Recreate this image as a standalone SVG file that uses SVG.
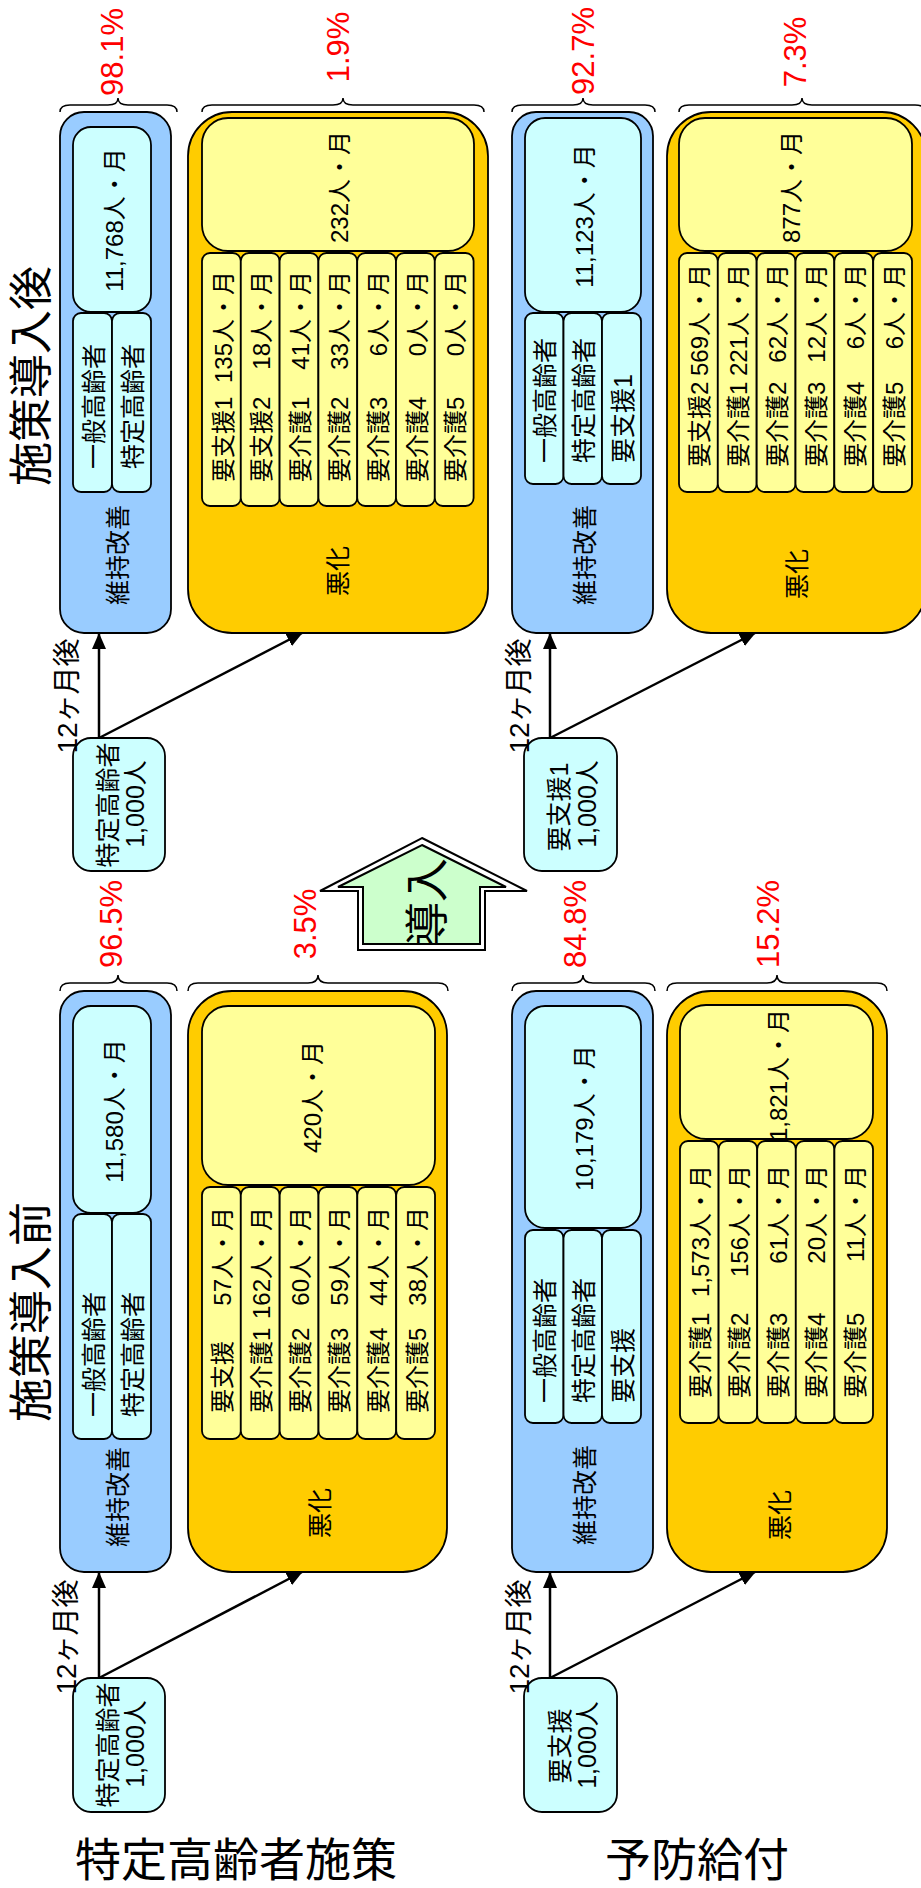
<svg xmlns="http://www.w3.org/2000/svg" width="921" height="1888" viewBox="0 0 921 1888">
<defs>
<style>
text{font-family:"Liberation Sans","Noto Sans CJK JP",sans-serif;fill:#000;dominant-baseline:central}
.s{stroke:#000;stroke-width:1.8}
.blue{fill:#99ccff}
.cy{fill:#ccffff}
.yo{fill:#ffcc00}
.yi{fill:#ffff99}
.f24{font-size:24px}
.f25{font-size:25px}
.f28{font-size:28px}
.pct{font-size:31px;fill:#ff0000}
.ttl{font-size:44px}
.big{font-size:46px;dominant-baseline:auto}
.brace{fill:none;stroke:#000;stroke-width:1.5}
.conn{stroke:#000;stroke-width:2.5;fill:none}
.m{text-anchor:middle}
.e{text-anchor:end}
</style>
<marker id="ah" viewBox="0 0 16 14" refX="15" refY="7" markerWidth="16" markerHeight="14" markerUnits="userSpaceOnUse" orient="auto">
<path d="M0,0 L16,7 L0,14 z" fill="#000"/>
</marker>
</defs>
<rect width="921" height="1888" fill="#fff"/>

<!-- titles -->
<g id="titles">
<text class="ttl m" transform="translate(31.5,376) rotate(-90)">施策導入後</text>
<text class="ttl m" transform="translate(31.5,1312) rotate(-90)">施策導入前</text>
<text class="big" x="75" y="1876">特定高齢者施策</text>
<text class="big" x="605" y="1876">予防給付</text>
</g>

<!-- percentages and braces -->
<g id="braces">
<path class="brace" d="M60,112 Q60,105 70,105 L108,105 Q118,105 118,98 Q118,105 128,105 L167,105 Q177,105 177,112"/>
<path class="brace" d="M202,112 Q202,105 212,105 L333,105 Q343,105 343,98 Q343,105 353,105 L474,105 Q484,105 484,112"/>
<path class="brace" d="M512,112 Q512,105 522,105 L573,105 Q583,105 583,98 Q583,105 593,105 L645,105 Q655,105 655,112"/>
<path class="brace" d="M679,112 Q679,105 689,105 L792,105 Q802,105 802,98 Q802,105 812,105 L915,105 Q925,105 925,112"/>
<path class="brace" d="M60,991 Q60,983 70,983 L108,983 Q118,983 118,975 Q118,983 128,983 L167,983 Q177,983 177,991"/>
<path class="brace" d="M188,991 Q188,983 198,983 L308,983 Q318,983 318,975 Q318,983 328,983 L438,983 Q448,983 448,991"/>
<path class="brace" d="M512,991 Q512,983 522,983 L573,983 Q583,983 583,975 Q583,983 593,983 L645,983 Q655,983 655,991"/>
<path class="brace" d="M667,991 Q667,983 677,983 L767,983 Q777,983 777,975 Q777,983 787,983 L877,983 Q887,983 887,991"/>
<text class="pct m" transform="translate(112,52) rotate(-90)">98.1%</text>
<text class="pct m" transform="translate(338,47) rotate(-90)">1.9%</text>
<text class="pct m" transform="translate(583,51) rotate(-90)">92.7%</text>
<text class="pct m" transform="translate(795,52) rotate(-90)">7.3%</text>
<text class="pct m" transform="translate(111,924) rotate(-90)">96.5%</text>
<text class="pct m" transform="translate(305,924) rotate(-90)">3.5%</text>
<text class="pct m" transform="translate(575.5,924) rotate(-90)">84.8%</text>
<text class="pct m" transform="translate(768.5,924) rotate(-90)">15.2%</text>
</g>

<!-- upper left: after, 特定高齢者 -->
<g id="after-tokutei-improve">
<rect class="s blue" x="60" y="112" width="111" height="521" rx="24"/>
<rect class="s cy" x="73" y="127" width="78" height="185" rx="18"/>
<rect class="s cy" x="73" y="313" width="39" height="179" rx="8"/>
<rect class="s cy" x="112" y="313" width="39" height="179" rx="8"/>
<text class="f24 m" transform="translate(114,220) rotate(-90)">11,768人・月</text>
<text class="f25" transform="translate(93.5,469) rotate(-90)">一般高齢者</text>
<text class="f25" transform="translate(132.5,469) rotate(-90)">特定高齢者</text>
<text class="f25 m" transform="translate(117.5,555) rotate(-90)">維持改善</text>
</g>

<g id="after-tokutei-worse">
<rect class="s yo" x="188" y="112" width="300" height="521" rx="44"/>
<rect class="s yi" x="202" y="118" width="272" height="133" rx="26"/>
<text class="f24 m" transform="translate(339,187) rotate(-90)">232人・月</text>
<rect class="s yi" x="202" y="253" width="38.8" height="253" rx="8"/>
<rect class="s yi" x="240.8" y="253" width="38.8" height="253" rx="8"/>
<rect class="s yi" x="279.6" y="253" width="38.8" height="253" rx="8"/>
<rect class="s yi" x="318.4" y="253" width="38.8" height="253" rx="8"/>
<rect class="s yi" x="357.2" y="253" width="38.8" height="253" rx="8"/>
<rect class="s yi" x="396" y="253" width="38.8" height="253" rx="8"/>
<rect class="s yi" x="434.8" y="253" width="38.8" height="253" rx="8"/>
<text class="f24" transform="translate(223.1,482) rotate(-90)">要支援1</text>
<text class="f24" transform="translate(261.9,482) rotate(-90)">要支援2</text>
<text class="f24" transform="translate(300.7,482) rotate(-90)">要介護1</text>
<text class="f24" transform="translate(339.5,482) rotate(-90)">要介護2</text>
<text class="f24" transform="translate(378.3,482) rotate(-90)">要介護3</text>
<text class="f24" transform="translate(417.1,482) rotate(-90)">要介護4</text>
<text class="f24" transform="translate(455.9,482) rotate(-90)">要介護5</text>
<text class="f24 e" transform="translate(223.1,271) rotate(-90)">135人・月</text>
<text class="f24 e" transform="translate(261.9,271) rotate(-90)">18人・月</text>
<text class="f24 e" transform="translate(300.7,271) rotate(-90)">41人・月</text>
<text class="f24 e" transform="translate(339.5,271) rotate(-90)">33人・月</text>
<text class="f24 e" transform="translate(378.3,271) rotate(-90)">6人・月</text>
<text class="f24 e" transform="translate(417.1,271) rotate(-90)">0人・月</text>
<text class="f24 e" transform="translate(455.9,271) rotate(-90)">0人・月</text>
<text class="f25 m" transform="translate(338,571) rotate(-90)">悪化</text>
</g>

<!-- upper right: after, 要支援1 -->
<g id="after-yoshien-improve">
<rect class="s blue" x="512" y="112" width="141" height="521" rx="24"/>
<rect class="s cy" x="525" y="118" width="116" height="194" rx="20"/>
<rect class="s cy" x="525" y="313" width="38.5" height="171" rx="8"/>
<rect class="s cy" x="563.5" y="313" width="38.5" height="171" rx="8"/>
<rect class="s cy" x="602" y="313" width="39" height="171" rx="8"/>
<text class="f24 m" transform="translate(584,216) rotate(-90)">11,123人・月</text>
<text class="f25" transform="translate(545,463) rotate(-90)">一般高齢者</text>
<text class="f25" transform="translate(583.5,463) rotate(-90)">特定高齢者</text>
<text class="f25" transform="translate(622.5,463) rotate(-90)">要支援1</text>
<text class="f25 m" transform="translate(585,555) rotate(-90)">維持改善</text>
</g>

<g id="after-yoshien-worse">
<rect class="s yo" x="667" y="112" width="259" height="521" rx="44"/>
<rect class="s yi" x="679" y="118" width="233" height="133" rx="26"/>
<text class="f24 m" transform="translate(791,187) rotate(-90)">877人・月</text>
<rect class="s yi" x="679" y="253" width="38.8" height="239" rx="8"/>
<rect class="s yi" x="717.8" y="253" width="38.8" height="239" rx="8"/>
<rect class="s yi" x="756.7" y="253" width="38.8" height="239" rx="8"/>
<rect class="s yi" x="795.5" y="253" width="38.8" height="239" rx="8"/>
<rect class="s yi" x="834.3" y="253" width="38.8" height="239" rx="8"/>
<rect class="s yi" x="873.2" y="253" width="38.8" height="239" rx="8"/>
<text class="f24" transform="translate(699.9,467) rotate(-90)">要支援2</text>
<text class="f24" transform="translate(738.7,467) rotate(-90)">要介護1</text>
<text class="f24" transform="translate(777.6,467) rotate(-90)">要介護2</text>
<text class="f24" transform="translate(816.4,467) rotate(-90)">要介護3</text>
<text class="f24" transform="translate(855.2,467) rotate(-90)">要介護4</text>
<text class="f24" transform="translate(894.1,467) rotate(-90)">要介護5</text>
<text class="f24 e" transform="translate(699.9,264) rotate(-90)">569人・月</text>
<text class="f24 e" transform="translate(738.7,264) rotate(-90)">221人・月</text>
<text class="f24 e" transform="translate(777.6,264) rotate(-90)">62人・月</text>
<text class="f24 e" transform="translate(816.4,264) rotate(-90)">12人・月</text>
<text class="f24 e" transform="translate(855.2,264) rotate(-90)">6人・月</text>
<text class="f24 e" transform="translate(894.1,264) rotate(-90)">6人・月</text>
<text class="f25 m" transform="translate(797,574) rotate(-90)">悪化</text>
</g>

<!-- start nodes upper -->
<g id="node-after-tokutei">
<rect class="s cy" x="73" y="738" width="92" height="133" rx="18"/>
<text class="f25 m" transform="translate(107.5,805) rotate(-90)">特定高齢者</text>
<text class="f25 m" transform="translate(135,804) rotate(-90)">1,000人</text>
</g>
<g id="node-after-yoshien">
<rect class="s cy" x="524" y="738" width="93" height="133" rx="18"/>
<text class="f25 m" transform="translate(559,807) rotate(-90)">要支援1</text>
<text class="f25 m" transform="translate(587,804) rotate(-90)">1,000人</text>
</g>

<!-- block arrow -->
<g id="arrow-introduce">
<polygon points="422,838 527,891 485,891 485,950 358,950 358,891 320,891" fill="#fff" stroke="#000" stroke-width="2"/>
<polygon points="422,845 506,887 480,887 480,944 363,944 363,887 338,887" fill="#ccffcc" stroke="#000" stroke-width="2"/>
<text class="ttl m" transform="translate(427,902) rotate(-90)">導入</text>
</g>

<!-- lower left: before, 特定高齢者 -->
<g id="before-tokutei-improve">
<rect class="s blue" x="60" y="991" width="111" height="581" rx="24"/>
<rect class="s cy" x="73" y="1006" width="78" height="207" rx="18"/>
<rect class="s cy" x="73" y="1214" width="39" height="225" rx="8"/>
<rect class="s cy" x="112" y="1214" width="39" height="225" rx="8"/>
<text class="f24 m" transform="translate(114,1111) rotate(-90)">11,580人・月</text>
<text class="f25" transform="translate(93.5,1417) rotate(-90)">一般高齢者</text>
<text class="f25" transform="translate(132.5,1417) rotate(-90)">特定高齢者</text>
<text class="f25 m" transform="translate(117.5,1497) rotate(-90)">維持改善</text>
</g>

<g id="before-tokutei-worse">
<rect class="s yo" x="188" y="991" width="259" height="581" rx="44"/>
<rect class="s yi" x="202" y="1006" width="233" height="179" rx="26"/>
<text class="f24 m" transform="translate(312,1097) rotate(-90)">420人・月</text>
<rect class="s yi" x="202" y="1187" width="38.8" height="252" rx="8"/>
<rect class="s yi" x="240.8" y="1187" width="38.8" height="252" rx="8"/>
<rect class="s yi" x="279.7" y="1187" width="38.8" height="252" rx="8"/>
<rect class="s yi" x="318.5" y="1187" width="38.8" height="252" rx="8"/>
<rect class="s yi" x="357.3" y="1187" width="38.8" height="252" rx="8"/>
<rect class="s yi" x="396.2" y="1187" width="38.8" height="252" rx="8"/>
<text class="f24" transform="translate(222.9,1413) rotate(-90)">要支援</text>
<text class="f24" transform="translate(261.7,1413) rotate(-90)">要介護1</text>
<text class="f24" transform="translate(300.6,1413) rotate(-90)">要介護2</text>
<text class="f24" transform="translate(339.4,1413) rotate(-90)">要介護3</text>
<text class="f24" transform="translate(378.2,1413) rotate(-90)">要介護4</text>
<text class="f24" transform="translate(417.1,1413) rotate(-90)">要介護5</text>
<text class="f24 e" transform="translate(222.9,1207) rotate(-90)">57人・月</text>
<text class="f24 e" transform="translate(261.7,1207) rotate(-90)">162人・月</text>
<text class="f24 e" transform="translate(300.6,1207) rotate(-90)">60人・月</text>
<text class="f24 e" transform="translate(339.4,1207) rotate(-90)">59人・月</text>
<text class="f24 e" transform="translate(378.2,1207) rotate(-90)">44人・月</text>
<text class="f24 e" transform="translate(417.1,1207) rotate(-90)">38人・月</text>
<text class="f25 m" transform="translate(320,1513) rotate(-90)">悪化</text>
</g>

<!-- lower right: before, 要支援 -->
<g id="before-yoshien-improve">
<rect class="s blue" x="512" y="991" width="141" height="581" rx="24"/>
<rect class="s cy" x="525" y="1006" width="116" height="222" rx="20"/>
<rect class="s cy" x="525" y="1230" width="38.5" height="193" rx="8"/>
<rect class="s cy" x="563.5" y="1230" width="38.5" height="193" rx="8"/>
<rect class="s cy" x="602" y="1230" width="39" height="193" rx="8"/>
<text class="f24 m" transform="translate(584,1118) rotate(-90)">10,179人・月</text>
<text class="f25" transform="translate(545,1403) rotate(-90)">一般高齢者</text>
<text class="f25" transform="translate(583.5,1403) rotate(-90)">特定高齢者</text>
<text class="f25" transform="translate(622.5,1403) rotate(-90)">要支援</text>
<text class="f25 m" transform="translate(585,1495) rotate(-90)">維持改善</text>
</g>

<g id="before-yoshien-worse">
<rect class="s yo" x="667" y="991" width="220" height="581" rx="44"/>
<rect class="s yi" x="680" y="1005" width="193" height="134" rx="26"/>
<text class="f24 m" transform="translate(778,1075) rotate(-90)">1,821人・月</text>
<rect class="s yi" x="680" y="1141" width="38.6" height="282" rx="8"/>
<rect class="s yi" x="718.6" y="1141" width="38.6" height="282" rx="8"/>
<rect class="s yi" x="757.2" y="1141" width="38.6" height="282" rx="8"/>
<rect class="s yi" x="795.8" y="1141" width="38.6" height="282" rx="8"/>
<rect class="s yi" x="834.4" y="1141" width="38.6" height="282" rx="8"/>
<text class="f24" transform="translate(700.8,1398) rotate(-90)">要介護1</text>
<text class="f24" transform="translate(739.4,1398) rotate(-90)">要介護2</text>
<text class="f24" transform="translate(778,1398) rotate(-90)">要介護3</text>
<text class="f24" transform="translate(816.6,1398) rotate(-90)">要介護4</text>
<text class="f24" transform="translate(855.2,1398) rotate(-90)">要介護5</text>
<text class="f24 e" transform="translate(700.8,1165) rotate(-90)">1,573人・月</text>
<text class="f24 e" transform="translate(739.4,1165) rotate(-90)">156人・月</text>
<text class="f24 e" transform="translate(778,1165) rotate(-90)">61人・月</text>
<text class="f24 e" transform="translate(816.6,1165) rotate(-90)">20人・月</text>
<text class="f24 e" transform="translate(855.2,1165) rotate(-90)">11人・月</text>
<text class="f25 m" transform="translate(780,1515) rotate(-90)">悪化</text>
</g>

<!-- start nodes lower -->
<g id="node-before-tokutei">
<rect class="s cy" x="73" y="1678" width="92" height="134" rx="18"/>
<text class="f25 m" transform="translate(107.5,1745) rotate(-90)">特定高齢者</text>
<text class="f25 m" transform="translate(135,1744) rotate(-90)">1,000人</text>
</g>
<g id="node-before-yoshien">
<rect class="s cy" x="524" y="1678" width="93" height="134" rx="18"/>
<text class="f25 m" transform="translate(560,1746) rotate(-90)">要支援</text>
<text class="f25 m" transform="translate(587,1745) rotate(-90)">1,000人</text>
</g>

<!-- connectors -->
<g id="connectors">
<line class="conn" x1="99" y1="738" x2="99" y2="634" marker-end="url(#ah)"/>
<line class="conn" x1="99" y1="738" x2="302" y2="633" marker-end="url(#ah)"/>
<line class="conn" x1="550" y1="738" x2="550" y2="634" marker-end="url(#ah)"/>
<line class="conn" x1="550" y1="738" x2="755" y2="633" marker-end="url(#ah)"/>
<line class="conn" x1="99" y1="1678" x2="99" y2="1573" marker-end="url(#ah)"/>
<line class="conn" x1="99" y1="1678" x2="302" y2="1572" marker-end="url(#ah)"/>
<line class="conn" x1="550" y1="1678" x2="550" y2="1573" marker-end="url(#ah)"/>
<line class="conn" x1="550" y1="1678" x2="755" y2="1572" marker-end="url(#ah)"/>
<text class="f28 m" transform="translate(67.5,696) rotate(-90)">12ヶ月後</text>
<text class="f28 m" transform="translate(519,696) rotate(-90)">12ヶ月後</text>
<text class="f28 m" transform="translate(66.5,1637) rotate(-90)">12ヶ月後</text>
<text class="f28 m" transform="translate(519,1637) rotate(-90)">12ヶ月後</text>
</g>
</svg>
